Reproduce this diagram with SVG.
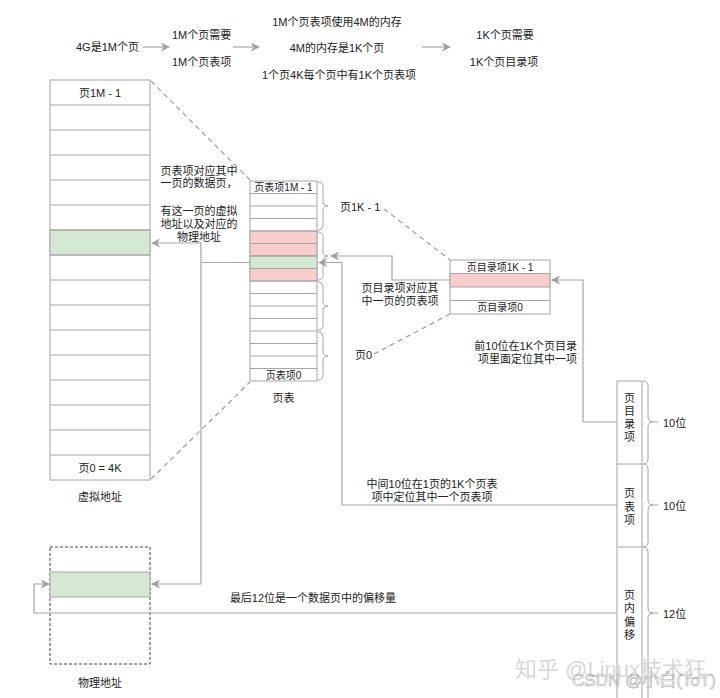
<svg xmlns="http://www.w3.org/2000/svg" width="720" height="698" viewBox="0 0 720 698">
<defs>
<style>
text{font-family:"Liberation Sans","Noto Sans CJK SC",sans-serif;font-size:11px;fill:#222}
.s{font-size:10px}
.m{text-anchor:middle}
.e{text-anchor:end}
.cell{fill:#fff;stroke:#a6a6a6;stroke-width:1}
.red{fill:#f8cecc;stroke:#a6a6a6;stroke-width:1}
.grn{fill:#d5e8d4;stroke:#a6a6a6;stroke-width:1}
.ln{fill:none;stroke:#a6a6a6;stroke-width:1.2}
.ds{fill:none;stroke:#a0a0a0;stroke-width:1.3;stroke-dasharray:5 4}
.br{fill:none;stroke:#a6a6a6;stroke-width:1}
.wm{font-size:22px;fill:#d8d8d8}
.wm2{font-size:17px;fill:none;stroke:#aaa;stroke-width:0.6}
</style>
<marker id="ah" viewBox="0 0 10 10" refX="9" refY="5" markerWidth="9" markerHeight="9" markerUnits="userSpaceOnUse" orient="auto">
<path d="M0,0 L10,5 L0,10 L3,5 z" fill="#a0a0a0"/>
</marker>
</defs>
<rect width="720" height="698" fill="#fff"/>

<g id="header">
<text x="76" y="51">4G是1M个页</text>
<text x="172" y="39">1M个页需要</text>
<text x="172" y="66">1M个页表项</text>
<text x="337" y="26" class="m">1M个页表项使用4M的内存</text>
<text x="337" y="52" class="m">4M的内存是1K个页</text>
<text x="339" y="79" class="m">1个页4K每个页中有1K个页表项</text>
<text x="505" y="39" class="m">1K个页需要</text>
<text x="504" y="66" class="m">1K个页目录项</text>
</g>

<g id="virtual-address">
<rect class="cell" x="50" y="80" width="100" height="400"/>
<rect class="grn" x="50" y="230" width="100" height="25"/>
<path class="br" d="M50,105H150M50,130H150M50,155H150M50,180H150M50,205H150M50,230H150M50,255H150M50,280H150M50,305H150M50,330H150M50,355H150M50,380H150M50,405H150M50,430H150M50,455H150"/>
<text x="100" y="97" class="m">页1M - 1</text>
<text x="100" y="472" class="m">页0 = 4K</text>
<text x="100" y="501" class="m">虚拟地址</text>
</g>

<g id="page-table">
<rect class="cell" x="250" y="181" width="67" height="200"/>
<rect class="red" x="250" y="231" width="67" height="25"/>
<rect class="grn" x="250" y="256" width="67" height="12.5"/>
<rect class="red" x="250" y="268.5" width="67" height="12.5"/>
<path class="br" d="M250,193.5H317M250,206H317M250,218.5H317M250,231H317M250,243.5H317M250,256H317M250,268.5H317M250,281H317M250,293.5H317M250,306H317M250,318.5H317M250,331H317M250,343.5H317M250,356H317M250,368.5H317"/>
<text x="283.5" y="191" class="m s">页表项1M - 1</text>
<text x="283.5" y="378.5" class="m s">页表项0</text>
<path class="br" d="M318,182Q323,182 323,187V201Q323,206 328,206Q323,206 323,211V225Q323,230 318,230"/>
<path class="br" d="M318,232Q323,232 323,237V251Q323,256 328,256Q323,256 323,261V275Q323,280 318,280"/>
<path class="br" d="M318,282Q323,282 323,287V301Q323,306 328,306Q323,306 323,311V325Q323,330 318,330"/>
<path class="br" d="M318,332Q323,332 323,337V351Q323,356 328,356Q323,356 323,361V375Q323,380 318,380"/>
<text x="283.5" y="402" class="m">页表</text>
<text x="340" y="211">页1K - 1</text>
<text x="355" y="359">页0</text>
</g>

<g id="page-directory">
<rect class="cell" x="450" y="260" width="100" height="54"/>
<rect class="red" x="450" y="273.5" width="100" height="13.5"/>
<path class="br" d="M450,300.5H550"/>
<text x="500" y="270.5" class="m s">页目录项1K - 1</text>
<text x="500" y="311" class="m s">页目录项0</text>
</g>

<g id="physical-address">
<rect x="50" y="547" width="100" height="117" fill="none" stroke="#444" stroke-width="1" stroke-dasharray="3 2"/>
<rect class="grn" x="50" y="572" width="100" height="25"/>
<text x="100" y="687" class="m">物理地址</text>
</g>

<g id="address-bits">
<rect class="cell" x="617" y="381" width="25" height="330"/>
<path class="br" d="M617,464H642M617,547H642"/>
<text x="629.5" y="402" class="m">页</text>
<text x="629.5" y="415" class="m">目</text>
<text x="629.5" y="428" class="m">录</text>
<text x="629.5" y="441" class="m">项</text>
<text x="629.5" y="497" class="m">页</text>
<text x="629.5" y="511" class="m">表</text>
<text x="629.5" y="524" class="m">项</text>
<text x="629.5" y="599" class="m">页</text>
<text x="629.5" y="612" class="m">内</text>
<text x="629.5" y="626" class="m">偏</text>
<text x="629.5" y="639" class="m">移</text>
<path class="br" d="M643,381Q648,381 648,386V417Q648,422 653,422Q648,422 648,427V459Q648,464 643,464"/>
<path class="br" d="M643,464Q648,464 648,469V500Q648,505 653,505Q648,505 648,510V542Q648,547 643,547"/>
<path class="br" d="M643,547Q648,547 648,552V608Q648,613 653,613Q648,613 648,618V700"/>
<path class="br" d="M653,422H658M653,505H658M653,613H658"/>
<text x="663" y="427">10位</text>
<text x="663" y="510">10位</text>
<text x="663" y="618">12位</text>
</g>

<g id="labels">
<text x="199" y="175" class="m">页表项对应其中</text>
<text x="199" y="187" class="m">一页的数据页，</text>
<text x="199" y="215" class="m">有这一页的虚拟</text>
<text x="199" y="228" class="m">地址以及对应的</text>
<text x="199" y="241" class="m">物理地址</text>
<text x="400" y="292" class="m">页目录项对应其</text>
<text x="400" y="305" class="m">中一页的页表项</text>
<text x="577" y="350" class="e">前10位在1K个页目录</text>
<text x="577" y="363" class="e">项里面定位其中一项</text>
<text x="432" y="488" class="m">中间10位在1页的1K个页表</text>
<text x="432" y="501" class="m">项中定位其中一个页表项</text>
<text x="313" y="602" class="m">最后12位是一个数据页中的偏移量</text>
</g>

<g id="connectors">
<path class="ln" d="M143,47H169" marker-end="url(#ah)"/>
<path class="ln" d="M233,47H259" marker-end="url(#ah)"/>
<path class="ln" d="M422,47H450" marker-end="url(#ah)"/>
<path class="ds" d="M151,81L250,180"/>
<path class="ds" d="M151,479L250,382"/>
<path class="ds" d="M384,209L450,260"/>
<path class="ds" d="M374,354L450,314"/>
<path class="ln" d="M250,262.5H201V243H152" marker-end="url(#ah)"/>
<path class="ln" d="M201,262.5V584H152" marker-end="url(#ah)"/>
<path class="ln" d="M450,280H392V256H331" marker-end="url(#ah)"/>
<path class="ln" d="M617,422H583V280H552" marker-end="url(#ah)"/>
<path class="ln" d="M617,505H342V262.5H319" marker-end="url(#ah)"/>
<path class="ln" d="M617,613H34V584H49" marker-end="url(#ah)"/>
</g>

<g id="watermark">
<text x="515" y="677" class="wm">知乎 @Linux技术狂</text>
<text x="572" y="686" class="wm2">CSDN @小白(ToT)</text>
</g>
</svg>
